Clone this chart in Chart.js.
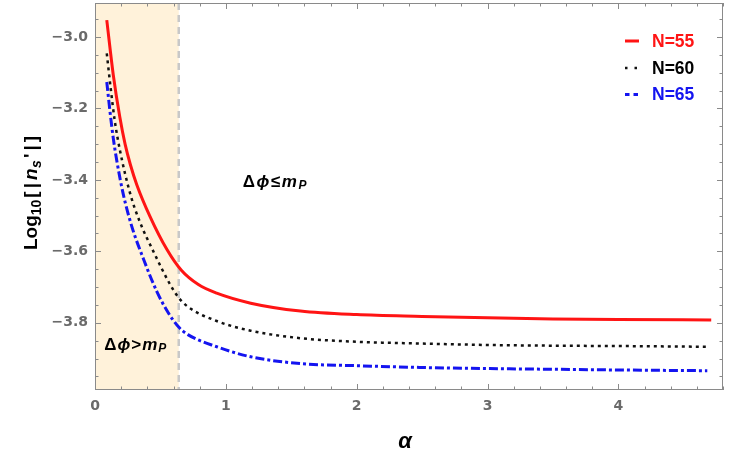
<!DOCTYPE html>
<html>
<head>
<meta charset="utf-8">
<script src="https://cdn.jsdelivr.net/npm/chart.js@4.4.1/dist/chart.umd.min.js"></script>
<style>
  body { margin: 0; background: #fff; }
  canvas { display: block; }
</style>
</head>
<body>
<canvas id="c" width="750" height="469"></canvas>
<script>
// Valeurs : alpha -> Log10[|ns'|]
const redX = [0.09, 0.14, 0.19, 0.23, 0.27, 0.32, 0.42, 0.55, 0.66, 0.79, 0.93, 1.19, 1.57, 2.0, 2.5, 3.0, 3.5, 4.0, 4.71]
const redY = [-2.953, -3.107, -3.225, -3.300, -3.357, -3.414, -3.502, -3.595, -3.653, -3.693, -3.717, -3.745, -3.767, -3.777, -3.782, -3.786, -3.789, -3.791, -3.792]

const blackX = [0.09, 0.12, 0.15, 0.19, 0.27, 0.34, 0.45, 0.57, 0.64, 0.71, 0.93, 1.19, 1.57, 2.0, 2.5, 3.0, 3.5, 4.0, 4.68]
const blackY = [-3.046, -3.144, -3.232, -3.316, -3.440, -3.515, -3.603, -3.690, -3.730, -3.755, -3.795, -3.822, -3.843, -3.853, -3.858, -3.862, -3.864, -3.865, -3.867]

const blueX = [0.09, 0.115, 0.14, 0.166, 0.216, 0.281, 0.369, 0.472, 0.56, 0.64, 0.71, 0.93, 1.19, 1.57, 2.0, 2.5, 3.0, 3.5, 4.0, 4.68]
const blueY = [-3.126, -3.210, -3.284, -3.345, -3.440, -3.530, -3.620, -3.712, -3.772, -3.812, -3.833, -3.867, -3.895, -3.914, -3.920, -3.925, -3.928, -3.930, -3.932, -3.934]

const seriesNames = ['N=55', 'N=60', 'N=65']

const xTicks = [0, 1, 2, 3, 4]
const yTicks = [-3.8, -3.6, -3.4, -3.2, -3.0]

// limite de la zone Δϕ>mP
const boundary = 0.64

const toPoints = (xs, ys) => xs.map((x, i) => ({ x: x, y: ys[i] }))

const FONT = '"Liberation Sans", "DejaVu Sans", sans-serif'
const colors = ['rgb(255,20,20)', '#111', 'rgb(20,20,240)']
const dashes = [[], [3, 4], [9, 3, 3, 3]]
const widths = [3, 2.5, 3]

// Dessine un texte composé de morceaux (indices, italique...)
function drawRich(ctx, parts, x, y, align) {
  let total = 0
  parts.forEach(p => { ctx.font = p.font; total += ctx.measureText(p.t).width + (p.gap || 0) })
  let cx = align === 'center' ? x - total / 2 : x
  ctx.textBaseline = 'middle'
  ctx.textAlign = 'left'
  parts.forEach(p => {
    ctx.font = p.font
    ctx.fillText(p.t, cx, y + (p.dy || 0))
    cx += ctx.measureText(p.t).width + (p.gap || 0)
  })
}

const decor = {
  id: 'decor',
  beforeDatasetsDraw(chart) {
    const ctx = chart.ctx
    const a = chart.chartArea
    const xs = chart.scales.x
    const bx = xs.getPixelForValue(boundary)
    ctx.save()
    ctx.fillStyle = 'rgb(255,242,218)'
    ctx.fillRect(a.left, a.top, bx - a.left, a.bottom - a.top)
    ctx.strokeStyle = '#c8c8c8'
    ctx.lineWidth = 2.5
    ctx.setLineDash([7, 5])
    ctx.beginPath()
    ctx.moveTo(bx, a.top)
    ctx.lineTo(bx, a.bottom)
    ctx.stroke()
    ctx.restore()
  },
  afterDatasetsDraw(chart) {
    const ctx = chart.ctx
    const a = chart.chartArea
    const xs = chart.scales.x
    const ys = chart.scales.y
    ctx.save()

    // cadre
    ctx.strokeStyle = '#8a8a8a'
    ctx.lineWidth = 1
    ctx.strokeRect(a.left + 0.5, a.top + 0.5, a.right - a.left - 1, a.bottom - a.top - 1)

    // graduations vers l'intérieur
    ctx.beginPath()
    for (let k = 0; k <= 24; k++) {
      const v = k * 0.2
      const px = Math.round(xs.getPixelForValue(v)) + 0.5
      const len = k % 5 === 0 ? 6 : 3.5
      ctx.moveTo(px, a.bottom); ctx.lineTo(px, a.bottom - len)
      ctx.moveTo(px, a.top); ctx.lineTo(px, a.top + len)
    }
    for (let k = 0; k <= 20; k++) {
      const v = -3.95 + k * 0.05
      const py = Math.round(ys.getPixelForValue(v)) + 0.5
      const len = (k + 1) % 4 === 0 ? 6 : 3.5
      ctx.moveTo(a.left, py); ctx.lineTo(a.left + len, py)
      ctx.moveTo(a.right, py); ctx.lineTo(a.right - len, py)
    }
    ctx.stroke()

    // légende
    const legY = [41, 68, 94.5]
    seriesNames.forEach((name, i) => {
      ctx.strokeStyle = colors[i]
      ctx.lineWidth = widths[i]
      ctx.setLineDash(i === 1 ? [2.5, 7] : i === 2 ? [4.5, 4] : [])
      ctx.beginPath()
      ctx.moveTo(625, legY[i])
      ctx.lineTo(639, legY[i])
      ctx.stroke()
      ctx.setLineDash([])
      ctx.fillStyle = colors[i] === '#111' ? '#000' : colors[i]
      drawRich(ctx, [{ t: name, font: 'bold 17.5px ' + FONT }], 652, legY[i] + 1, 'left')
    })

    // annotations
    ctx.fillStyle = '#000'
    const b17 = 'bold 17px ' + FONT
    const bi17 = 'italic bold 17px ' + FONT
    const bi12 = 'italic bold 12px ' + FONT
    drawRich(ctx, [
      { t: 'Δ', font: b17, gap: 1 }, { t: 'ϕ', font: bi17, gap: 1 }, { t: '>', font: b17, gap: 1 },
      { t: 'm', font: bi17, gap: 1 }, { t: 'P', font: bi12, dy: 4 }
    ], xs.getPixelForValue(0.07), ys.getPixelForValue(-3.862), 'left')
    drawRich(ctx, [
      { t: 'Δ', font: b17, gap: 1.5 }, { t: 'ϕ', font: bi17, gap: 1.5 }, { t: '≤', font: b17, gap: 1.5 },
      { t: 'm', font: bi17, gap: 1.5 }, { t: 'P', font: bi12, dy: 4 }
    ], xs.getPixelForValue(1.13), ys.getPixelForValue(-3.406), 'left')

    // titres des axes
    drawRich(ctx, [{ t: 'α', font: 'italic bold 22px ' + FONT }], 405, 442, 'center')

    ctx.translate(32, 193)
    ctx.rotate(-Math.PI / 2)
    const b19 = 'bold 19px ' + FONT
    const bi19 = 'italic bold 19px ' + FONT
    const b14 = 'bold 14px ' + FONT
    drawRich(ctx, [
      { t: 'Log', font: b19 }, { t: '10', font: b14, dy: 5, gap: 2 },
      { t: '[', font: b19, gap: 3 }, { t: '|', font: b19, gap: 3 },
      { t: 'n', font: bi19, gap: 0.5 }, { t: 's', font: 'italic bold 14px ' + FONT, dy: 5, gap: 2 },
      { t: "'", font: b19, gap: 3 }, { t: '|', font: b19, gap: 3 }, { t: ']', font: b19 }
    ], 0, 0, 'center')

    ctx.restore()
  }
}

const canvas = document.getElementById('c')

new Chart(canvas, {
  type: 'scatter',
  data: {
    datasets: [
      { label: seriesNames[0], data: toPoints(redX, redY) },
      { label: seriesNames[1], data: toPoints(blackX, blackY) },
      { label: seriesNames[2], data: toPoints(blueX, blueY) }
    ].map((d, i) => Object.assign(d, {
      showLine: true,
      pointRadius: 0,
      borderColor: colors[i],
      borderWidth: widths[i],
      borderDash: dashes[i],
      cubicInterpolationMode: 'monotone',
      fill: false
    }))
  },
  options: {
    responsive: false,
    animation: false,
    layout: { padding: { left: 0, right: 27, top: 3, bottom: 0 } },
    plugins: { legend: { display: false }, tooltip: { enabled: false } },
    scales: {
      x: {
        type: 'linear',
        min: 0,
        max: 4.8,
        grid: { display: false, drawTicks: false },
        border: { display: false },
        afterBuildTicks: s => { s.ticks = xTicks.map(v => ({ value: v })) },
        afterFit: s => { s.height = 79; s.paddingLeft = 0; s.paddingRight = 0 },
        ticks: {
          padding: 8,
          color: '#6a6a6a',
          font: { family: 'DejaVu Sans', weight: 'bold', size: 14 },
          callback: v => String(v)
        }
      },
      y: {
        type: 'linear',
        min: -3.988,
        max: -2.905,
        grid: { display: false, drawTicks: false },
        border: { display: false },
        afterBuildTicks: s => { s.ticks = yTicks.map(v => ({ value: v })) },
        afterFit: s => { s.width = 95; s.paddingTop = 0; s.paddingBottom = 0 },
        ticks: {
          padding: 7,
          color: '#6a6a6a',
          font: { family: 'DejaVu Sans', weight: 'bold', size: 14 },
          callback: v => '\u2212' + Math.abs(v).toFixed(1)
        }
      }
    }
  },
  plugins: [decor]
})
</script>
</body>
</html>
